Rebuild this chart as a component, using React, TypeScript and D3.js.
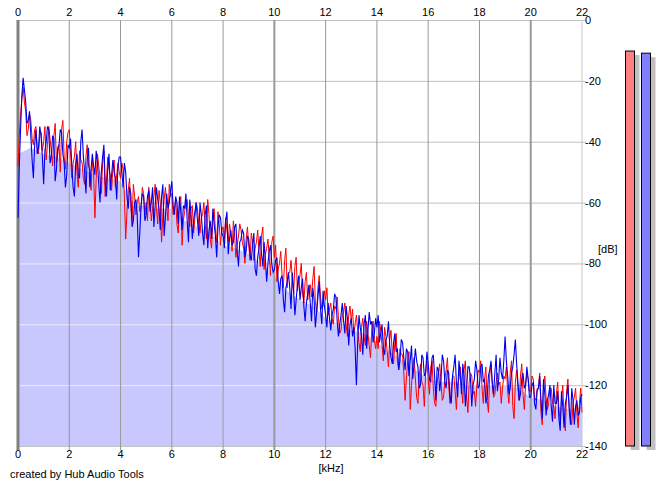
import * as d3 from "d3";

// spectrum bins are 0.05 kHz apart, starting at 0 kHz (one row = 1 kHz)
const BIN_KHZ = 0.05;

// left channel (red), dB per bin
const leftDb = [
  -48, -38, -31, -26, -22, -27, -30, -38, -36, -31, -33, -39, -41, -36, -35, -42, -44, -38, -37, -43,
  -40, -35, -46, -41, -35, -39, -43, -48, -38, -34, -47, -44, -41, -50, -36, -33, -45, -49, -40, -37,
  -36, -44, -52, -47, -45, -40, -50, -55, -43, -46, -47, -52, -54, -45, -41, -48, -49, -56, -46, -51,
  -65, -52, -44, -48, -52, -57, -47, -43, -58, -53, -45, -49, -51, -56, -49, -46, -55, -51, -47, -50,
  -52, -47, -49, -58, -72, -63, -56, -52, -61, -66, -54, -58, -64, -60, -58, -63, -62, -55, -57, -64,
  -60, -66, -55, -59, -66, -62, -58, -54, -62, -67, -56, -60, -73, -64, -59, -55, -61, -66, -54, -58,
  -57, -64, -62, -59, -67, -70, -60, -58, -74, -66, -63, -60, -59, -65, -68, -62, -61, -70, -65, -60,
  -62, -67, -70, -65, -64, -60, -67, -72, -59, -64, -72, -75, -66, -62, -69, -73, -63, -67, -74, -69,
  -68, -72, -65, -69, -73, -67, -70, -76, -66, -71, -78, -74, -71, -67, -69, -73, -75, -80, -72, -68,
  -74, -79, -70, -73, -79, -75, -73, -69, -76, -81, -71, -68, -82, -77, -75, -72, -78, -84, -73, -71,
  -78, -74, -86, -82, -80, -76, -84, -88, -79, -75, -88, -83, -83, -79, -85, -90, -81, -78, -89, -86,
  -84, -80, -90, -93, -86, -83, -92, -88, -87, -91, -85, -81, -93, -96, -88, -84, -91, -95, -94, -89,
  -92, -88, -97, -95, -93, -98, -100, -94, -95, -91, -98, -103, -102, -97, -96, -93, -100, -104, -97, -94,
  -99, -95, -103, -100, -97, -102, -106, -109, -101, -98, -104, -107, -99, -103, -107, -111, -102, -99, -105, -108,
  -104, -108, -99, -102, -107, -112, -101, -104, -109, -114, -105, -102, -110, -113, -106, -103, -112, -115, -108, -110,
  -110, -116, -125, -118, -112, -109, -128, -120, -114, -111, -118, -124, -126, -117, -113, -119, -120, -127, -116, -112,
  -118, -123, -114, -112, -121, -126, -127, -119, -116, -113, -119, -125, -124, -118, -115, -111, -120, -126, -122, -117,
  -117, -122, -128, -120, -118, -114, -121, -126, -115, -112, -124, -129, -119, -116, -117, -123, -122, -127, -120, -115,
  -116, -112, -121, -126, -118, -114, -125, -129, -117, -113, -120, -124, -123, -119, -116, -120, -119, -126, -121, -117,
  -118, -114, -122, -126, -116, -112, -127, -131, -119, -115, -121, -125, -117, -113, -123, -128, -120, -116, -118, -122,
  -122, -117, -118, -124, -125, -121, -121, -116, -129, -133, -120, -117, -124, -128, -126, -121, -121, -126, -127, -131,
  -123, -119, -128, -132, -125, -120, -131, -135, -122, -118, -127, -131, -133, -126, -124, -121, -129, -134, -126, -121,
  -129,
];

// right channel (blue), dB per bin
const rightDb = [
  -65, -48, -36, -25, -19, -23, -27, -34, -33, -30, -38, -46, -52, -41, -36, -44, -42, -35, -38, -45,
  -54, -43, -40, -35, -36, -47, -45, -38, -39, -53, -49, -42, -41, -36, -37, -44, -47, -55, -51, -41,
  -42, -39, -48, -55, -58, -47, -44, -51, -52, -40, -36, -45, -50, -57, -46, -42, -55, -49, -44, -48,
  -51, -43, -47, -54, -60, -50, -45, -41, -53, -58, -49, -44, -56, -51, -46, -50, -52, -59, -48, -45,
  -45, -50, -55, -47, -50, -58, -62, -55, -57, -68, -66, -60, -59, -64, -78, -70, -61, -57, -58, -66,
  -64, -58, -56, -63, -60, -55, -68, -61, -55, -59, -62, -69, -58, -54, -71, -65, -57, -62, -60, -56,
  -53, -61, -64, -58, -60, -67, -58, -63, -69, -61, -62, -57, -66, -73, -59, -64, -72, -66, -63, -60,
  -66, -71, -60, -64, -70, -74, -64, -61, -75, -69, -66, -72, -62, -67, -71, -78, -68, -64, -65, -70,
  -71, -75, -66, -63, -77, -72, -69, -74, -73, -68, -67, -76, -81, -73, -72, -69, -70, -78, -76, -71,
  -72, -77, -79, -74, -70, -82, -84, -78, -75, -71, -77, -81, -73, -79, -86, -80, -76, -74, -80, -83,
  -82, -79, -78, -86, -90, -85, -84, -92, -96, -88, -86, -83, -88, -95, -83, -89, -97, -92, -87, -84,
  -92, -88, -85, -94, -99, -93, -90, -87, -93, -99, -88, -92, -101, -96, -91, -86, -95, -100, -89, -94,
  -97, -101, -93, -98, -102, -97, -95, -90, -91, -99, -104, -100, -97, -93, -99, -103, -94, -98, -107, -100,
  -98, -104, -101, -108, -120, -106, -97, -101, -104, -110, -100, -97, -108, -102, -96, -100, -99, -106, -103, -98,
  -101, -97, -106, -103, -100, -108, -110, -105, -104, -99, -107, -111, -113, -106, -103, -109, -108, -115, -112, -105,
  -106, -111, -115, -108, -109, -117, -112, -107, -118, -113, -108, -112, -114, -121, -120, -110, -111, -117, -116, -109,
  -113, -118, -119, -111, -110, -117, -125, -114, -115, -122, -118, -110, -112, -119, -121, -115, -116, -124, -126, -117,
  -114, -110, -119, -124, -112, -116, -123, -113, -117, -127, -121, -114, -114, -118, -127, -120, -118, -112, -115, -121,
  -120, -114, -113, -119, -118, -126, -124, -117, -115, -112, -119, -123, -116, -110, -122, -118, -111, -116, -118, -112,
  -104, -112, -117, -123, -121, -116, -114, -110, -105, -113, -119, -125, -123, -118, -116, -121, -120, -114, -118, -124,
  -124, -120, -119, -126, -128, -122, -121, -117, -125, -131, -118, -123, -130, -125, -123, -120, -127, -132, -120, -126,
  -126, -122, -131, -135, -122, -127, -134, -126, -124, -120, -128, -133, -121, -125, -133, -127, -125, -130, -129, -124,
  -123,
];

// averaged floor (shaded area), every 0.5 kHz
const FLOOR_STEP = 0.5;
const floorDb = [
  -44, -42, -44, -45, -47, -49, -51, -52, -53, -61,
  -61, -62, -62, -66, -68, -70, -74, -75, -77, -80,
  -84, -89, -92, -94, -98, -100, -102, -103, -106, -109,
  -112, -115, -118, -119, -119, -120, -120, -120, -120, -121,
  -124, -125, -127, -128, -127,
];

// peak meters
const meterDb = [-10.2, -10.9];
const meterFill = ["#ff8080", "#8080ff"];

const kHzTicks = [0, 2, 4, 6, 8, 10, 12, 14, 16, 18, 20, 22];
const dbTicks = [0, -20, -40, -60, -80, -100, -120, -140];

const W = 665;
const H = 487;
const plot = { left: 18, right: 582, top: 20, bottom: 446 };
const font = "'Liberation Sans', Arial, sans-serif";

export default function App() {
  const x = d3.scaleLinear().domain([0, 22]).range([plot.left, plot.right]);
  const y = d3.scaleLinear().domain([0, -140]).range([plot.top, plot.bottom]);

  const line = d3
    .line<number>()
    .x((_, i) => x(i * BIN_KHZ))
    .y((d) => y(d));

  const area = d3
    .area<number>()
    .x((_, i) => x(i * FLOOR_STEP))
    .y0(plot.bottom)
    .y1((d) => y(d));

  const meterX = [625.5, 641.5];
  const meterW = 9;

  return (
    <svg
      width={W}
      height={H}
      viewBox={`0 0 ${W} ${H}`}
      style={{ position: "absolute", left: 0, top: 0, background: "#fff" }}
      fontFamily={font}
      fontSize={11}
    >
      <defs>
        <clipPath id="floorClip">
          <path d={area(floorDb) ?? ""} />
        </clipPath>
      </defs>

      {/* horizontal grid */}
      {dbTicks.map((t) => (
        <line
          key={`h${t}`}
          x1={plot.left}
          x2={plot.right + 4}
          y1={y(t) + 0.5}
          y2={y(t) + 0.5}
          stroke="#c0c0c0"
        />
      ))}

      {/* shaded floor */}
      <path d={area(floorDb) ?? ""} fill="#c8c8ff" />
      <g clipPath="url(#floorClip)">
        {dbTicks.map((t) => (
          <line
            key={`hf${t}`}
            x1={plot.left}
            x2={plot.right}
            y1={y(t) + 0.5}
            y2={y(t) + 0.5}
            stroke="#ececff"
          />
        ))}
      </g>

      {/* vertical grid */}
      {kHzTicks.map((t) => (
        <line
          key={`v${t}`}
          x1={x(t)}
          x2={x(t)}
          y1={plot.top}
          y2={plot.bottom + 4}
          stroke={t === 22 ? "#c8c8c8" : t === 0 ? "#808080" : "#999"}
          strokeWidth={t === 0 ? 3 : t % 10 === 0 ? 2 : 1}
        />
      ))}

      {/* spectra */}
      <path d={line(leftDb) ?? ""} fill="none" stroke="#ff0000" strokeWidth={1} />
      <path d={line(rightDb) ?? ""} fill="none" stroke="#0000ee" strokeWidth={1.1} />

      {/* kHz labels top & bottom */}
      {kHzTicks.map((t) => (
        <g key={`l${t}`}>
          <text x={x(t)} y={16} textAnchor="middle">
            {t}
          </text>
          <text x={x(t)} y={458} textAnchor="middle">
            {t}
          </text>
        </g>
      ))}

      {/* dB labels */}
      {dbTicks.map((t) => (
        <text key={`d${t}`} x={585} y={y(t) + 4} textAnchor="start">
          {t}
        </text>
      ))}

      <text x={598} y={253}>
        [dB]
      </text>
      <text x={331} y={472} textAnchor="middle">
        [kHz]
      </text>
      <text x={10} y={478}>
        created by Hub Audio Tools
      </text>

      {/* level meters */}
      {meterDb.map((d, i) => (
        <g key={`m${i}`}>
          <rect
            x={meterX[i] + 5}
            y={y(d) + 4}
            width={meterW}
            height={plot.bottom - y(d)}
            fill="#c0c0c0"
          />
          <rect
            x={meterX[i]}
            y={y(d)}
            width={meterW}
            height={plot.bottom - y(d)}
            fill={meterFill[i]}
            stroke="#000"
          />
        </g>
      ))}
    </svg>
  );
}
